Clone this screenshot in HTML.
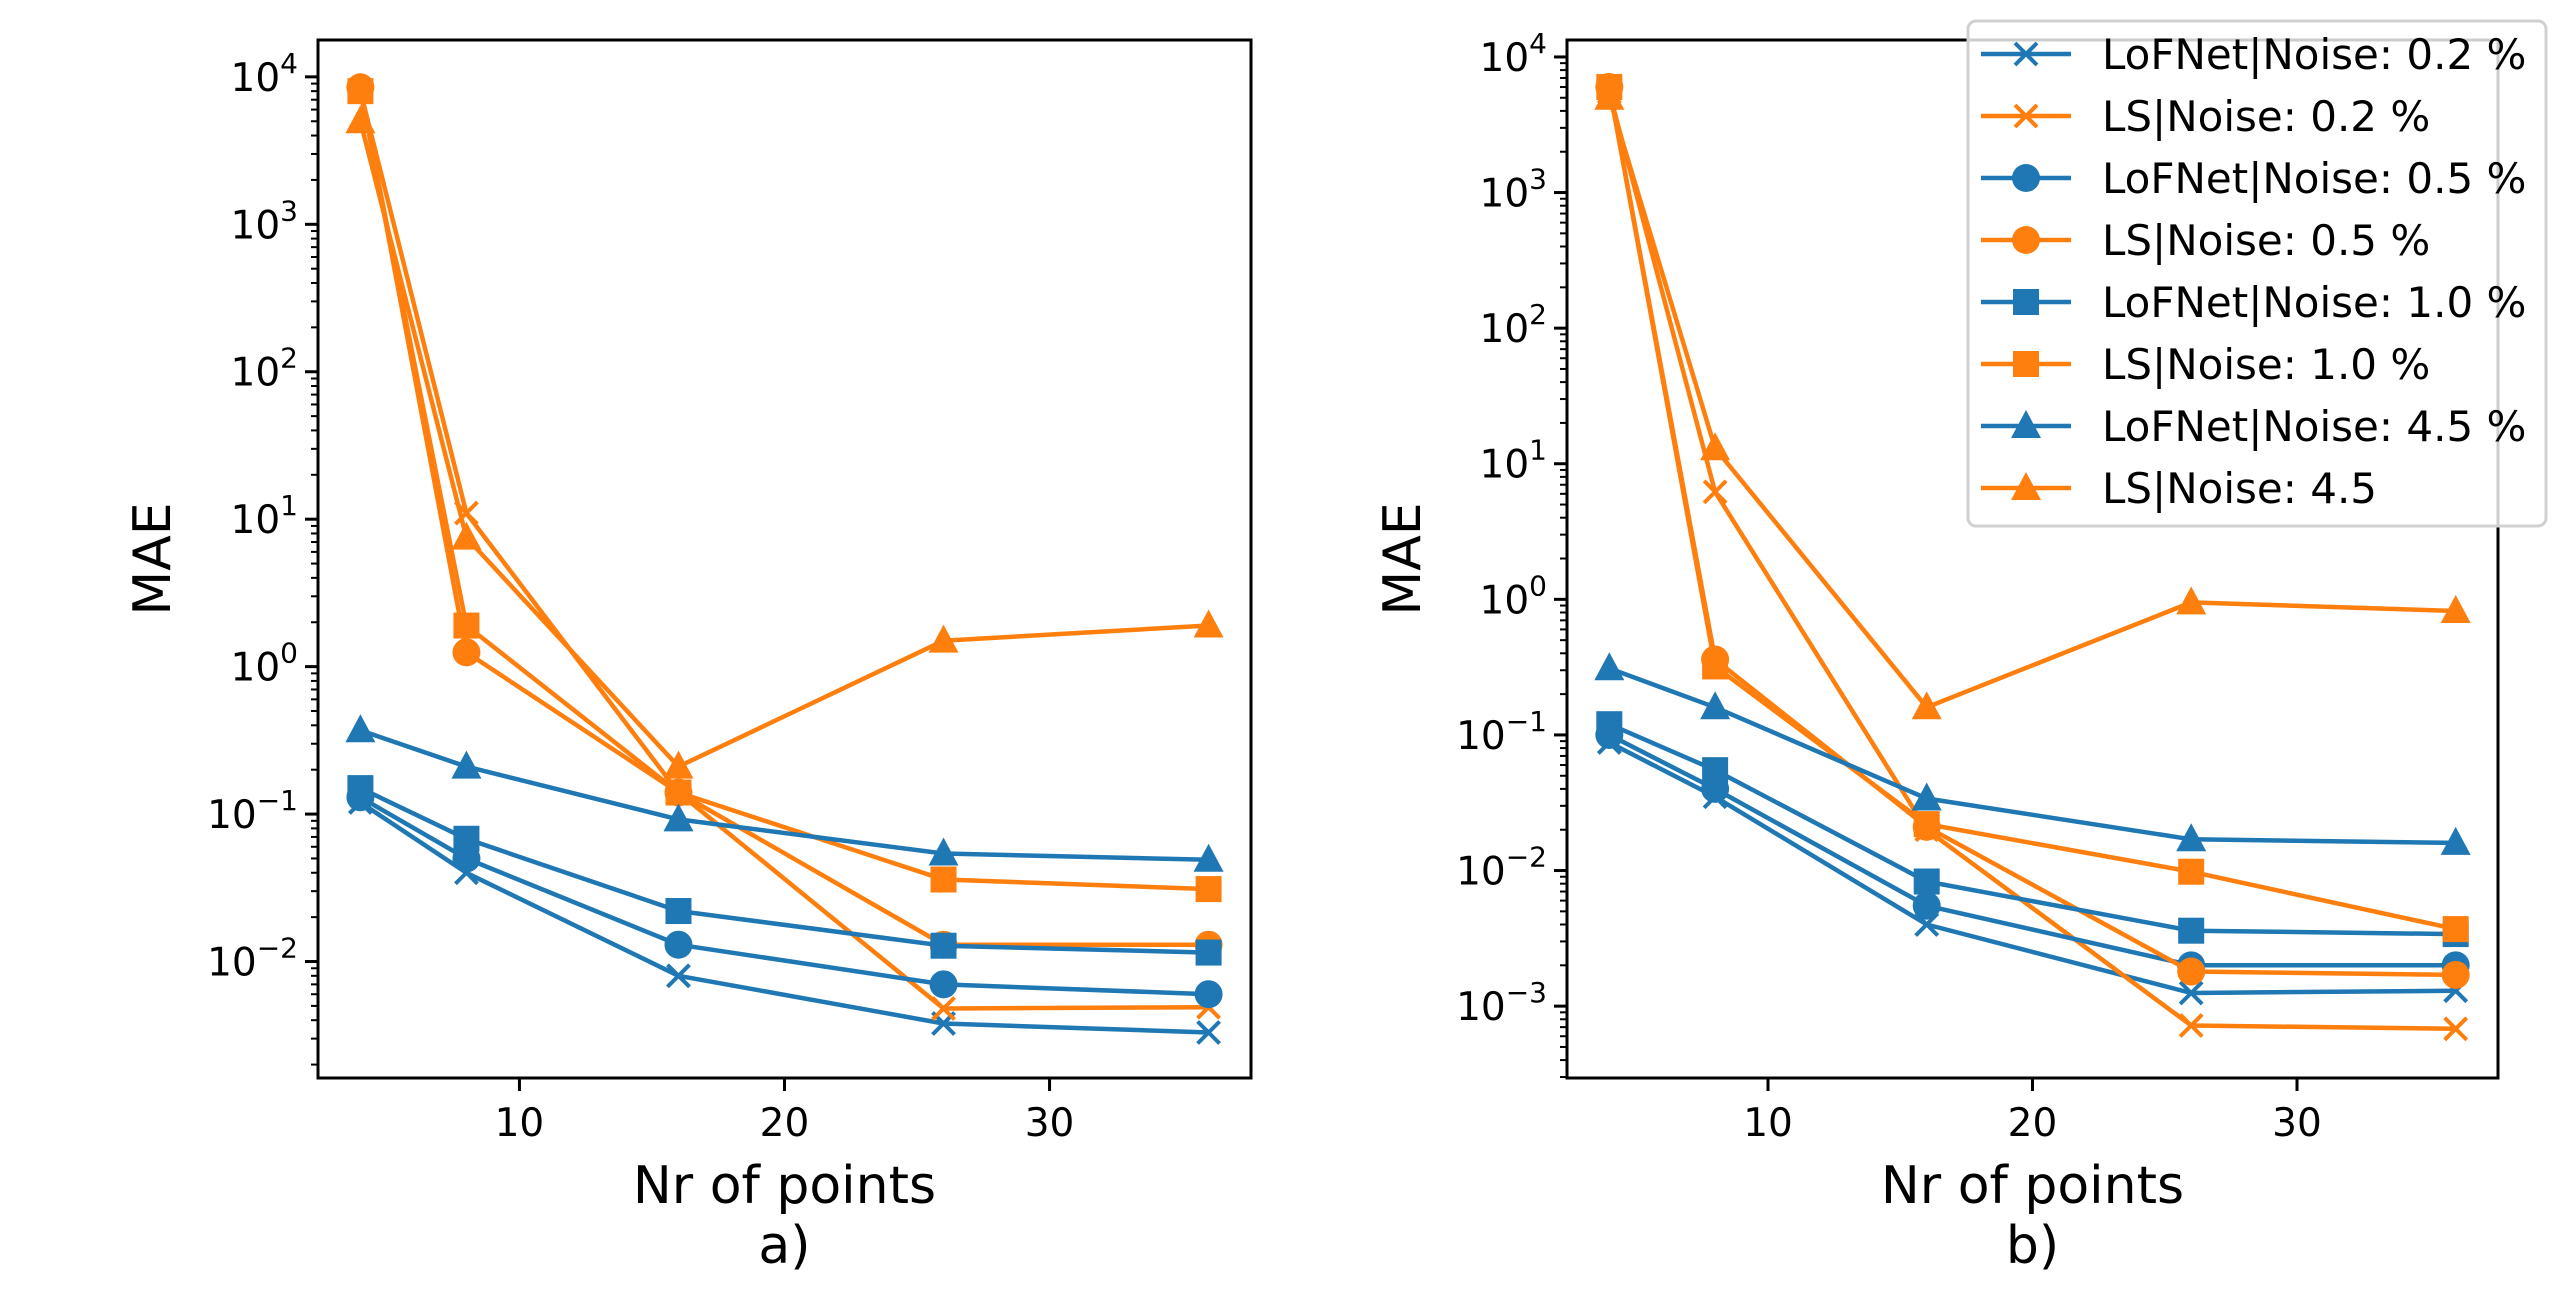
<!DOCTYPE html>
<html><head><meta charset="utf-8"><style>
html,body{margin:0;padding:0;background:#fff}
svg{display:block}
text{font-family:"DejaVu Sans","Liberation Sans",sans-serif;fill:#000}
</style></head><body>
<svg id="fig" width="2560" height="1296" xmlns="http://www.w3.org/2000/svg"></svg>
<script>
const xs = [4, 8, 16, 26, 36];
const seriesNames = ["LoFNet|Noise: 0.2 %","LS|Noise: 0.2 %","LoFNet|Noise: 0.5 %","LS|Noise: 0.5 %","LoFNet|Noise: 1.0 %","LS|Noise: 1.0 %","LoFNet|Noise: 4.5 %","LS|Noise: 4.5"];
const seriesMarkers = ["x","x","o","o","s","s","^","^"];
const seriesColors = ["#1f77b4","#ff7f0e","#1f77b4","#ff7f0e","#1f77b4","#ff7f0e","#1f77b4","#ff7f0e"];
const leftLoF02 = [0.12, 0.04, 0.008, 0.0038, 0.0033];
const leftLS02 = [8000, 11, 0.14, 0.0048, 0.0049];
const leftLoF05 = [0.13, 0.05, 0.013, 0.007, 0.006];
const leftLS05 = [8500, 1.25, 0.14, 0.013, 0.013];
const leftLoF10 = [0.15, 0.068, 0.022, 0.0128, 0.0115];
const leftLS10 = [8000, 1.9, 0.14, 0.036, 0.031];
const leftLoF45 = [0.37, 0.21, 0.092, 0.054, 0.049];
const leftLS45 = [5000, 7.5, 0.21, 1.5, 1.9];
const rightLoF02 = [0.088, 0.035, 0.004, 0.00125, 0.0013];
const rightLS02 = [5500, 6.2, 0.02, 0.00072, 0.00068];
const rightLoF05 = [0.1, 0.04, 0.0055, 0.002, 0.002];
const rightLS05 = [6000, 0.36, 0.021, 0.0018, 0.0017];
const rightLoF10 = [0.12, 0.055, 0.0083, 0.0036, 0.0034];
const rightLS10 = [6000, 0.32, 0.022, 0.0098, 0.0037];
const rightLoF45 = [0.31, 0.16, 0.034, 0.017, 0.016];
const rightLS45 = [5000, 13, 0.16, 0.95, 0.82];
const xTicks = [10, 20, 30];
const leftYTickExps = [-2, -1, 0, 1, 2, 3, 4];
const rightYTickExps = [-3, -2, -1, 0, 1, 2, 3, 4];

const NS = "http://www.w3.org/2000/svg";
const svg = document.getElementById("fig");
function mk(tag, attrs, parent) {
  const e = document.createElementNS(NS, tag);
  for (const k in attrs) e.setAttribute(k, attrs[k]);
  (parent || svg).appendChild(e);
  return e;
}
function marker(g, type, cx, cy, color, name) {
  let m;
  if (type === "o") m = mk("circle", {cx, cy, r: 14, fill: color}, g);
  else if (type === "s") m = mk("rect", {x: cx - 13, y: cy - 13, width: 26, height: 26, fill: color}, g);
  else if (type === "^") m = mk("polygon", {points: `${cx},${cy-16} ${cx-15},${cy+12} ${cx+15},${cy+12}`, fill: color}, g);
  else m = mk("path", {d: `M${cx-11},${cy-11}L${cx+11},${cy+11}M${cx-11},${cy+11}L${cx+11},${cy-11}`, stroke: color, "stroke-width": 4, fill: "none"}, g);
  
  
}
function panel(p) {
  const g = mk("g", {});
  
  
  const X = v => p.x0 + (v - 2.4) / (37.6 - 2.4) * (p.x1 - p.x0);
  const Y = v => p.y0 + (p.lmax - Math.log10(v)) / (p.lmax - p.lmin) * (p.y1 - p.y0);
  // series
  p.series.forEach((vals, i) => {
    const sg = mk("g", {}, g);
    
    
    const d = vals.map((v, j) => (j ? "L" : "M") + X(xs[j]).toFixed(1) + "," + Y(v).toFixed(1)).join("");
    const ln = mk("path", {d, stroke: seriesColors[i], "stroke-width": 4.5, fill: "none", "stroke-linejoin": "round"}, sg);
    
    
    vals.forEach((v, j) => marker(sg, seriesMarkers[i], X(xs[j]), Y(v), seriesColors[i], 'data-point'));
  });
  // frame
  const fr = mk("rect", {x: p.x0, y: p.y0, width: p.x1 - p.x0, height: p.y1 - p.y0, fill: "none", stroke: "#000", "stroke-width": 3}, g);
  
  
  // x ticks
  xTicks.forEach(t => {
    const x = X(t);
    mk("line", {x1: x, x2: x, y1: p.y1, y2: p.y1 + 13, stroke: "#000", "stroke-width": 3}, g);
    const tx = mk("text", {x, y: p.y1 + 58, "font-size": 39, "text-anchor": "middle"}, g);
    tx.textContent = t;
    
    
  });
  // y ticks
  for (let e = Math.floor(p.lmin); e <= Math.ceil(p.lmax); e++) {
    for (let k = 1; k < 10; k++) {
      const lv = e + Math.log10(k);
      if (lv < p.lmin || lv > p.lmax) continue;
      const y = Y(Math.pow(10, lv));
      mk("line", {x1: p.x0 - (k === 1 ? 13 : 7), x2: p.x0, y1: y, y2: y, stroke: "#000", "stroke-width": k === 1 ? 3 : 2}, g);
    }
  }
  p.yt.forEach(e => {
    const y = Y(Math.pow(10, e));
    const tx = mk("text", {x: p.x0 - 20, y: y + 14, "font-size": 39, "text-anchor": "end"}, g);
    const sup = e < 0 ? "\u2212" + (-e) : "" + e;
    tx.innerHTML = '10<tspan dy="-18" font-size="28">' + sup + '</tspan>';
    
    
  });
  const cx = (p.x0 + p.x1) / 2;
  const xl = mk("text", {x: cx, y: 1203, "font-size": 52, "text-anchor": "middle"}, g);
  xl.textContent = "Nr of points";
  
  
  const cap = mk("text", {x: cx, y: 1263, "font-size": 52, "text-anchor": "middle"}, g);
  cap.textContent = p.caption;
  
  
  const yl = mk("text", {x: 0, y: 0, "font-size": 52, "text-anchor": "middle", transform: `translate(${p.ylx},${(p.y0+p.y1)/2}) rotate(-90)`}, g);
  yl.textContent = "MAE";
  
  
}
panel({name: "panel-a", x0: 318, x1: 1251, y0: 40, y1: 1078, lmin: -2.79, lmax: 4.25, yt: leftYTickExps, caption: "a)", ylx: 170,
  series: [leftLoF02, leftLS02, leftLoF05, leftLS05, leftLoF10, leftLS10, leftLoF45, leftLS45]});
panel({name: "panel-b", x0: 1567, x1: 2498, y0: 40, y1: 1078, lmin: -3.53, lmax: 4.125, yt: rightYTickExps, caption: "b)", ylx: 1420,
  series: [rightLoF02, rightLS02, rightLoF05, rightLS05, rightLoF10, rightLS10, rightLoF45, rightLS45]});
// legend
const lg = mk("g", {});


mk("rect", {x: 1968, y: 21, width: 578, height: 505, rx: 8, fill: "rgba(255,255,255,0.8)", stroke: "#d0d0d0", "stroke-width": 3}, lg);
seriesNames.forEach((n, i) => {
  const y = 54 + i * 62;
  const eg = mk("g", {}, lg);
  
  
  mk("line", {x1: 1981, x2: 2071, y1: y, y2: y, stroke: seriesColors[i], "stroke-width": 4.5}, eg);
  marker(eg, seriesMarkers[i], 2026, y, seriesColors[i], 'legend-marker');
  const t = mk("text", {x: 2102, y: y + 15, "font-size": 42}, eg);
  t.textContent = n;
  
  
});
</script>
</body></html>
